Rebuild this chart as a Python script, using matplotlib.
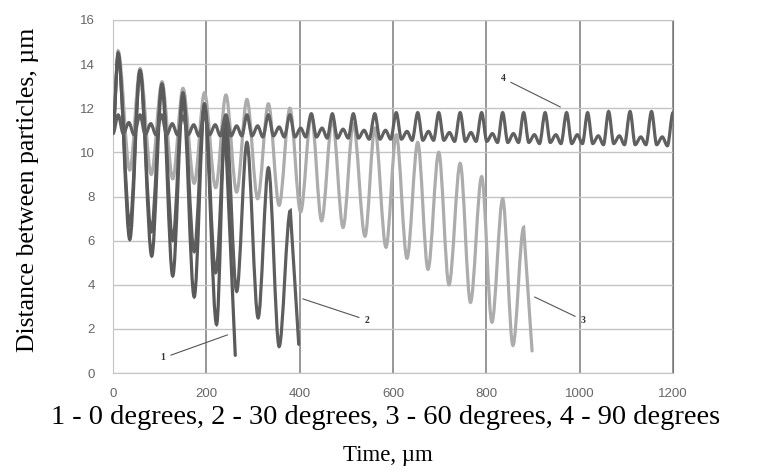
import matplotlib
matplotlib.use("Agg")
import matplotlib.pyplot as plt
from matplotlib.path import Path
from matplotlib.patches import PathPatch

# curve 1 - 0 degrees
t1 = [0, 11, 36, 58, 83, 105, 128, 150, 174, 196, 222, 240, 262]
d1 = [11.0, 14.5, 6.05, 13.7, 5.3, 13.0, 4.4, 12.5, 3.45, 12.1, 2.2, 11.3, 0.8]

# curve 2 - 30 degrees
t2 = [0, 11, 36, 58, 82, 105, 128, 150, 174, 196, 220, 242, 265, 287, 311, 333, 356, 380, 398]
d2 = [11.0, 14.4, 6.7, 13.7, 6.4, 13.1, 6.0, 12.7, 5.5, 12.2, 4.55, 11.4, 3.7, 10.45, 2.5, 9.3, 1.2, 7.35, 1.3]

# curve 3 - 60 degrees
t3 = [0, 11, 36, 58, 82, 105, 128, 150, 174, 196, 220, 242, 265, 287, 310, 333, 356, 379, 402, 425,
      447, 470, 493, 515, 540, 561, 585, 607, 630, 653, 675, 698, 720, 744, 766, 790, 812, 835, 857, 880, 898]
d3 = [11.0, 14.6, 9.2, 13.8, 9.0, 13.2, 8.8, 12.9, 8.6, 12.7, 8.4, 12.6, 8.2, 12.4, 7.9, 12.2, 7.6, 12.0, 7.3, 11.7,
      6.9, 11.5, 6.6, 11.3, 6.2, 11.1, 5.7, 10.8, 5.2, 10.45, 4.7, 10.0, 4.0, 9.5, 3.2, 8.9, 2.3, 7.9, 1.25, 6.6, 1.0]

# curve 4 - 90 degrees (peak, trough, small bump, trough per cycle)
t4 = [0,
      11, 22, 34, 45, 58, 69, 81, 92, 104, 115, 127, 138, 150, 161, 173, 184,
      196, 207, 219, 230, 242, 253, 265, 276, 287, 298, 310, 321, 333, 344, 356, 367,
      379, 390, 402, 413, 425, 436, 448, 459, 470, 481, 493, 504, 515, 526, 538, 549,
      561, 572, 584, 595, 607, 618, 630, 641, 653, 664, 676, 687, 698, 709, 721, 732,
      744, 755, 767, 778, 790, 801, 813, 824, 835, 846, 858, 869, 880, 891, 903, 914,
      926, 937, 949, 960, 972, 983, 995, 1006, 1017, 1028, 1040, 1051, 1062, 1073, 1085, 1096,
      1108, 1119, 1131, 1142, 1154, 1165, 1177, 1188, 1200]
d4 = [10.85,
      11.7, 10.85, 11.35, 10.8, 11.7, 10.8, 11.3, 10.8, 11.7, 10.8, 11.3, 10.8, 11.65, 10.8, 11.25, 10.75,
      11.7, 10.8, 11.25, 10.75, 11.7, 10.75, 11.2, 10.75, 11.7, 10.75, 11.2, 10.7, 11.7, 10.75, 11.15, 10.7,
      11.7, 10.7, 11.1, 10.7, 11.75, 10.7, 11.1, 10.65, 11.75, 10.65, 11.05, 10.65, 11.75, 10.65, 11.0, 10.6,
      11.75, 10.6, 11.0, 10.6, 11.8, 10.6, 10.95, 10.55, 11.8, 10.55, 10.95, 10.55, 11.8, 10.55, 10.9, 10.5,
      11.8, 10.5, 10.9, 10.5, 11.8, 10.5, 10.85, 10.45, 11.8, 10.45, 10.85, 10.45, 11.8, 10.45, 10.8, 10.4,
      11.8, 10.45, 10.8, 10.4, 11.8, 10.4, 10.8, 10.4, 11.8, 10.4, 10.75, 10.35, 11.85, 10.4, 10.75, 10.35,
      11.85, 10.35, 10.7, 10.35, 11.85, 10.35, 10.7, 10.3, 11.8]

xticks = [0, 200, 400, 600, 800, 1000, 1200]
yticks = [0, 2, 4, 6, 8, 10, 12, 14, 16]


def smooth(xs, ys, straight_end=False):
    # smoothed line like Excel: flat tangents at the turning points
    verts = [(xs[0], ys[0])]
    codes = [Path.MOVETO]
    n = len(xs)
    for i in range(1, n):
        if straight_end and i == n - 1:
            verts.append((xs[i], ys[i]))
            codes.append(Path.LINETO)
            continue
        dx = xs[i] - xs[i - 1]
        verts += [(xs[i - 1] + dx / 3, ys[i - 1]), (xs[i] - dx / 3, ys[i]), (xs[i], ys[i])]
        codes += [Path.CURVE4] * 3
    return Path(verts, codes)


fig = plt.figure(figsize=(7.64, 4.76), dpi=100)
ax = fig.add_axes([113 / 764, 103 / 476, 560 / 764, 353 / 476])

ax.set_xlim(0, 1200)
ax.set_ylim(0, 16)
ax.set_xticks(xticks)
ax.set_yticks(yticks)
ax.grid(axis="y", color="#c4c4c4", lw=1.0)
ax.grid(axis="x", color="#7a7a7a", lw=1.1)
ax.set_axisbelow(True)
for s in ax.spines.values():
    s.set_color("#c4c4c4")
ax.spines["right"].set_color("#7a7a7a")
ax.tick_params(length=0, labelsize=9.5, labelcolor="#666666")
ax.tick_params(axis="x", pad=11)
ax.tick_params(axis="y", pad=13)
for lab in ax.get_xticklabels() + ax.get_yticklabels():
    lab.set_family("Liberation Sans")

ax.add_patch(PathPatch(smooth(t3, d3, True), fill=False, ec="#acacac", lw=2.3, capstyle="round", zorder=2))
ax.add_patch(PathPatch(smooth(t2, d2, True), fill=False, ec="#5e5e5e", lw=2.3, capstyle="round", zorder=3))
ax.add_patch(PathPatch(smooth(t1, d1, True), fill=False, ec="#5a5a5a", lw=2.3, capstyle="round", zorder=3))
ax.add_patch(PathPatch(smooth(t4, d4), fill=False, ec="#606060", lw=2.3, capstyle="round", zorder=4))

# curve labels
lab_kw = dict(fontsize=7, family="Liberation Serif", fontweight="bold", color="#333333",
              arrowprops=dict(arrowstyle="-", color="#555555", lw=0.8))
ax.annotate("1", xy=(251, 1.77), xytext=(107, 0.68), ha="center", va="center", **lab_kw)
ax.annotate("2", xy=(401, 3.4), xytext=(544, 2.4), ha="center", va="center", **lab_kw)
ax.annotate("3", xy=(898, 3.5), xytext=(1007, 2.4), ha="center", va="center", **lab_kw)
ax.annotate("4", xy=(964, 12.0), xytext=(836, 13.35), ha="center", va="center", **lab_kw)

fig.text(28 / 764, 1 - 190 / 476, "Distance between particles, µm", rotation=90,
         ha="center", va="center", family="Liberation Serif", fontsize=18.5)

fig.text(0.505, 1 - 418 / 476, "1 - 0 degrees, 2 - 30 degrees, 3 - 60 degrees, 4 - 90 degrees",
         ha="center", va="center", family="Liberation Serif", fontsize=20.5)
fig.text(0.508, 1 - 456 / 476, "Time, µm", ha="center", va="center",
         family="Liberation Serif", fontsize=16.5)

fig.savefig("out.png", dpi=100)
